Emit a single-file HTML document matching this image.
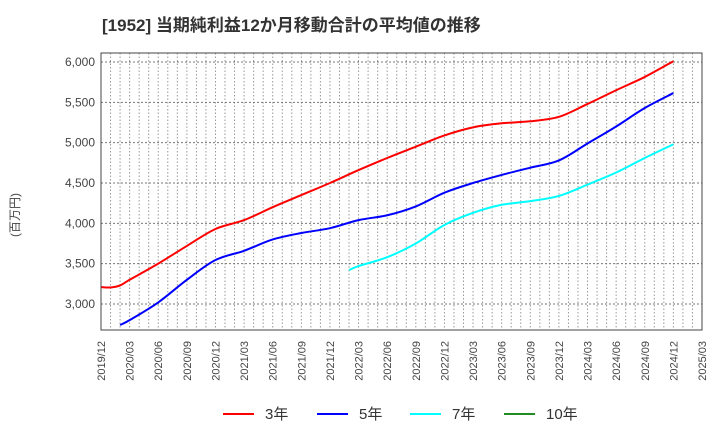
<!DOCTYPE html>
<html><head><meta charset="utf-8"><style>
body{margin:0;background:#fff;}
svg{display:block;font-family:"Liberation Sans","Noto Sans CJK JP",sans-serif;}
</style></head><body>
<svg id="chart" width="720" height="440">
<text x="102" y="31" font-size="17" font-weight="bold" fill="#333">[1952]  当期純利益12か月移動合計の平均値の推移</text>
<text transform="translate(19,215) rotate(-90)" text-anchor="middle" font-size="12" fill="#444">(百万円)</text>
<g id="grid"></g>
<g id="series"></g>
<rect x="101" y="53" width="601" height="277" fill="none" stroke="#444" stroke-width="1"/>
<g id="yticks"></g>
<g id="xticks"></g>
<g id="legend"></g>
</svg>
<script>
// data: month index from 2019/12 (0) and values in million yen
const xTickLabels = ["2019/12","2020/03","2020/06","2020/09","2020/12","2021/03","2021/06","2021/09","2021/12","2022/03","2022/06","2022/09","2022/12","2023/03","2023/06","2023/09","2023/12","2024/03","2024/06","2024/09","2024/12","2025/03"];
const yTicks = [3000,3500,4000,4500,5000,5500,6000];
const red3Months = [0,1,2,3,6,9,12,15,18,21,24,27,30,33,36,39,42,45,48,51,54,57,60];
const red3Values = [3210,3205,3230,3300,3500,3720,3930,4040,4200,4350,4500,4660,4810,4950,5090,5190,5240,5265,5320,5480,5650,5815,6010];
const blue5Months = [2,3,6,9,12,15,18,21,24,27,30,33,36,39,42,45,48,51,54,57,60];
const blue5Values = [2740,2800,3020,3300,3545,3660,3800,3880,3940,4040,4100,4210,4380,4500,4600,4690,4780,4990,5200,5430,5615];
const cyan7Months = [26,27,30,33,36,39,42,45,48,51,54,57,60];
const cyan7Values = [3420,3470,3580,3750,3980,4130,4230,4275,4340,4480,4630,4810,4980];
const green10Months = [];
const green10Values = [];

const X0=101,X1=702,Y0=53,Y1=330,NM=63;
const xs=m=>X0+(X1-X0)*m/NM;
const ys=v=>304-(v-3000)*(242/3000);
const NS="http://www.w3.org/2000/svg";
function mk(t,a,p){const e=document.createElementNS(NS,t);for(const k in a)e.setAttribute(k,a[k]);p.appendChild(e);return e;}
const grid=document.getElementById('grid');
for(let m=1;m<NM;m++){
  const l=mk('line',{x1:xs(m),x2:xs(m),y1:Y0,y2:Y1,stroke:'#999','stroke-dasharray':'1.5,2','stroke-width':1},grid);
  
  
}
const yt=document.getElementById('yticks');
yTicks.forEach(v=>{
  const l=mk('line',{x1:X0,x2:X1,y1:ys(v),y2:ys(v),stroke:'#777','stroke-dasharray':'2,2','stroke-width':1},grid);
  
  
  const t=mk('text',{x:95,y:ys(v)+4,'text-anchor':'end','font-size':12,fill:'#444'},yt);
  t.textContent=v.toLocaleString('en-US');
  
  
});
const xt=document.getElementById('xticks');
xTickLabels.forEach((s,i)=>{
  const x=xs(i*3);
  const t=mk('text',{transform:`translate(${x+4},341) rotate(-90)`,'text-anchor':'end','font-size':11,fill:'#444'},xt);
  t.textContent=s;
  
  
});
function path(ms,vs){
  const p=ms.map((m,i)=>[xs(m),ys(vs[i])]);
  if(p.length<2)return '';
  let d=`M${p[0][0]},${p[0][1]}`;
  for(let i=0;i<p.length-1;i++){
    const a=p[i-1]||p[i],b=p[i],c=p[i+1],e=p[i+2]||c;
    d+=` C${b[0]+(c[0]-a[0])/6},${b[1]+(c[1]-a[1])/6} ${c[0]-(e[0]-b[0])/6},${c[1]-(e[1]-b[1])/6} ${c[0]},${c[1]}`;
  }
  return d;
}
const sg=document.getElementById('series');
[[red3Months,red3Values,'#ff0000','line-3yr'],[blue5Months,blue5Values,'#0000ff','line-5yr'],[cyan7Months,cyan7Values,'#00ffff','line-7yr'],[green10Months,green10Values,'#228b22','line-10yr']].forEach(s=>{
  const d=path(s[0],s[1]);if(!d)return;
  const e=mk('path',{d:d,fill:'none',stroke:s[2],'stroke-width':2},sg);
  
  
});
const lg=document.getElementById('legend');
[['3年','#ff0000',223],['5年','#0000ff',317],['7年','#00ffff',410],['10年','#228b22',504]].forEach(it=>{
  const g=mk('g',{},lg);
  
  
  mk('line',{x1:it[2],x2:it[2]+31,y1:414,y2:414,stroke:it[1],'stroke-width':2},g);
  const t=mk('text',{x:it[2]+42,y:419,'font-size':15,fill:'#333'},g);
  t.textContent=it[0];
});
</script>
</body></html>
